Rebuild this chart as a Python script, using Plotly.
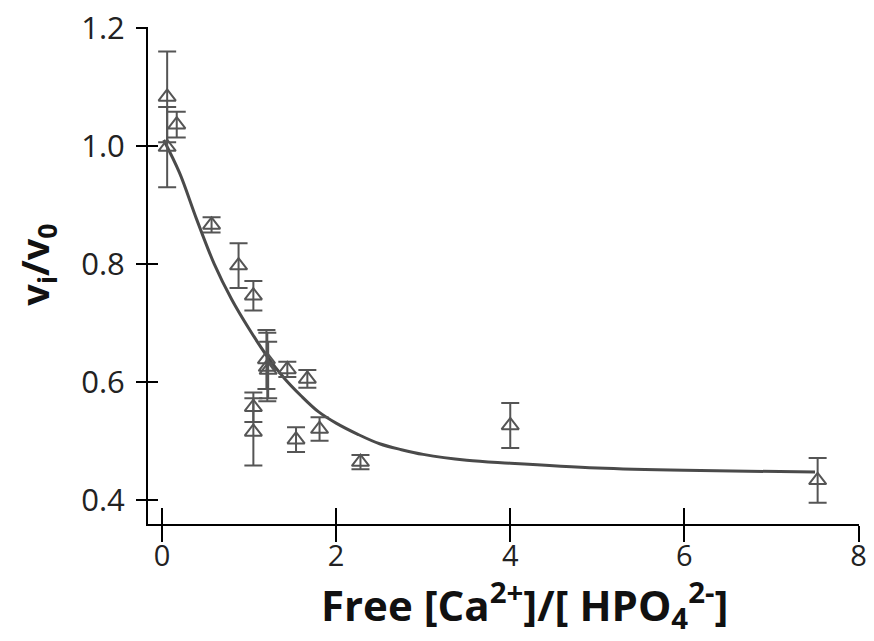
import plotly.graph_objects as go

# Data points
ratio = [0.06, 0.06, 0.17, 0.57, 0.88, 1.05, 1.05, 1.05, 1.20, 1.21, 1.22, 1.44, 1.54, 1.67, 1.81, 2.28, 4.00, 7.53]
vi_v0 = [1.083, 0.998, 1.036, 0.866, 0.797, 0.746, 0.557, 0.515, 0.638, 0.625, 0.620, 0.621, 0.502, 0.605, 0.520, 0.464, 0.526, 0.433]
err = [0.077, 0.068, 0.022, 0.013, 0.038, 0.025, 0.025, 0.057, 0.050, 0.058, 0.048, 0.013, 0.021, 0.015, 0.020, 0.012, 0.038, 0.038]

# Fitted curve
fit_x = [0.02, 0.2, 0.4, 0.6, 0.8, 1.0, 1.2, 1.4, 1.6, 1.8, 2.0, 2.25, 2.5, 2.75, 3.0, 3.5, 4.0, 5.0, 6.0, 7.5]
fit_y = [1.01, 0.955, 0.875, 0.80, 0.74, 0.69, 0.645, 0.607, 0.576, 0.549, 0.53, 0.511, 0.495, 0.485, 0.477, 0.467, 0.462, 0.454, 0.450, 0.447]

x_ticks = [0, 2, 4, 6, 8]
y_ticks = [0.4, 0.6, 0.8, 1.0, 1.2]

GRAY = "#555555"
FONT = "Open Sans"

fig = go.Figure()
fig.add_trace(go.Scatter(
    x=fit_x, y=fit_y, mode="lines",
    line=dict(color="#4a4a4a", width=3, shape="spline", smoothing=1.0),
    showlegend=False, hoverinfo="skip"))
fig.add_trace(go.Scatter(
    x=ratio, y=vi_v0, mode="markers",
    marker=dict(symbol="triangle-up-open", size=15, color=GRAY, line=dict(width=2, color=GRAY)),
    error_y=dict(type="data", array=err, visible=True, color=GRAY, thickness=2, width=9),
    showlegend=False))
# dummy trace for overlay axes (inner half of crossing ticks)
fig.add_trace(go.Scatter(x=[None], y=[None], xaxis="x2", yaxis="y2", showlegend=False, hoverinfo="skip"))

xr = [-0.16, 8.005]
yr = [0.359, 1.2015]

fig.update_layout(
    width=874, height=641,
    margin=dict(l=140, r=23, t=19, b=125, autoexpand=False),
    plot_bgcolor="white", paper_bgcolor="white",
    font=dict(family=FONT, color="#222222"),
    xaxis=dict(range=xr, tickvals=x_ticks, ticks="outside", ticklen=16, tickwidth=2, tickcolor="black",
               showline=True, linecolor="black", linewidth=2, showgrid=False, zeroline=False,
               ticklabelstandoff=-11, ticklabeloverflow="allow", automargin=False,
               tickfont=dict(size=29, family=FONT, color="#222222")),
    yaxis=dict(range=yr, tickvals=y_ticks, ticktext=["0.4", "0.6", "0.8", "1.0", "1.2"], ticks="outside",
               ticklen=10, tickwidth=2, ticklabeloverflow="allow", automargin=False,
               tickcolor="black", showline=True, linecolor="black", linewidth=2, showgrid=False,
               zeroline=False, ticklabelstandoff=5,
               tickfont=dict(size=31, family=FONT, color="#222222")),
    xaxis2=dict(range=xr, tickvals=x_ticks, ticks="inside", ticklen=16, tickwidth=2, tickcolor="black",
                showticklabels=False, showline=False, showgrid=False, zeroline=False, automargin=False,
                overlaying="x", side="bottom", anchor="y"),
    yaxis2=dict(range=yr, tickvals=y_ticks, ticks="inside", ticklen=10, tickwidth=2, tickcolor="black",
                showticklabels=False, showline=False, showgrid=False, zeroline=False, automargin=False,
                overlaying="y", side="left", anchor="x"),
    annotations=[
        dict(text="<b>Free [Ca<sup>2+</sup>]/[ HPO<sub>4</sub><sup>2-</sup>]</b>", xref="paper", yref="paper",
             x=0.529, y=-0.163, xanchor="center", yanchor="middle", showarrow=False,
             font=dict(size=42, family=FONT, color="#111111")),
        dict(text="<b>v<sub>i</sub>/v<sub>0</sub></b>", xref="paper", yref="paper",
             x=-0.158, y=0.521, xanchor="center", yanchor="middle", textangle=-90, showarrow=False,
             font=dict(size=38, family=FONT, color="#111111")),
    ],
)

fig.write_html("out.html")
